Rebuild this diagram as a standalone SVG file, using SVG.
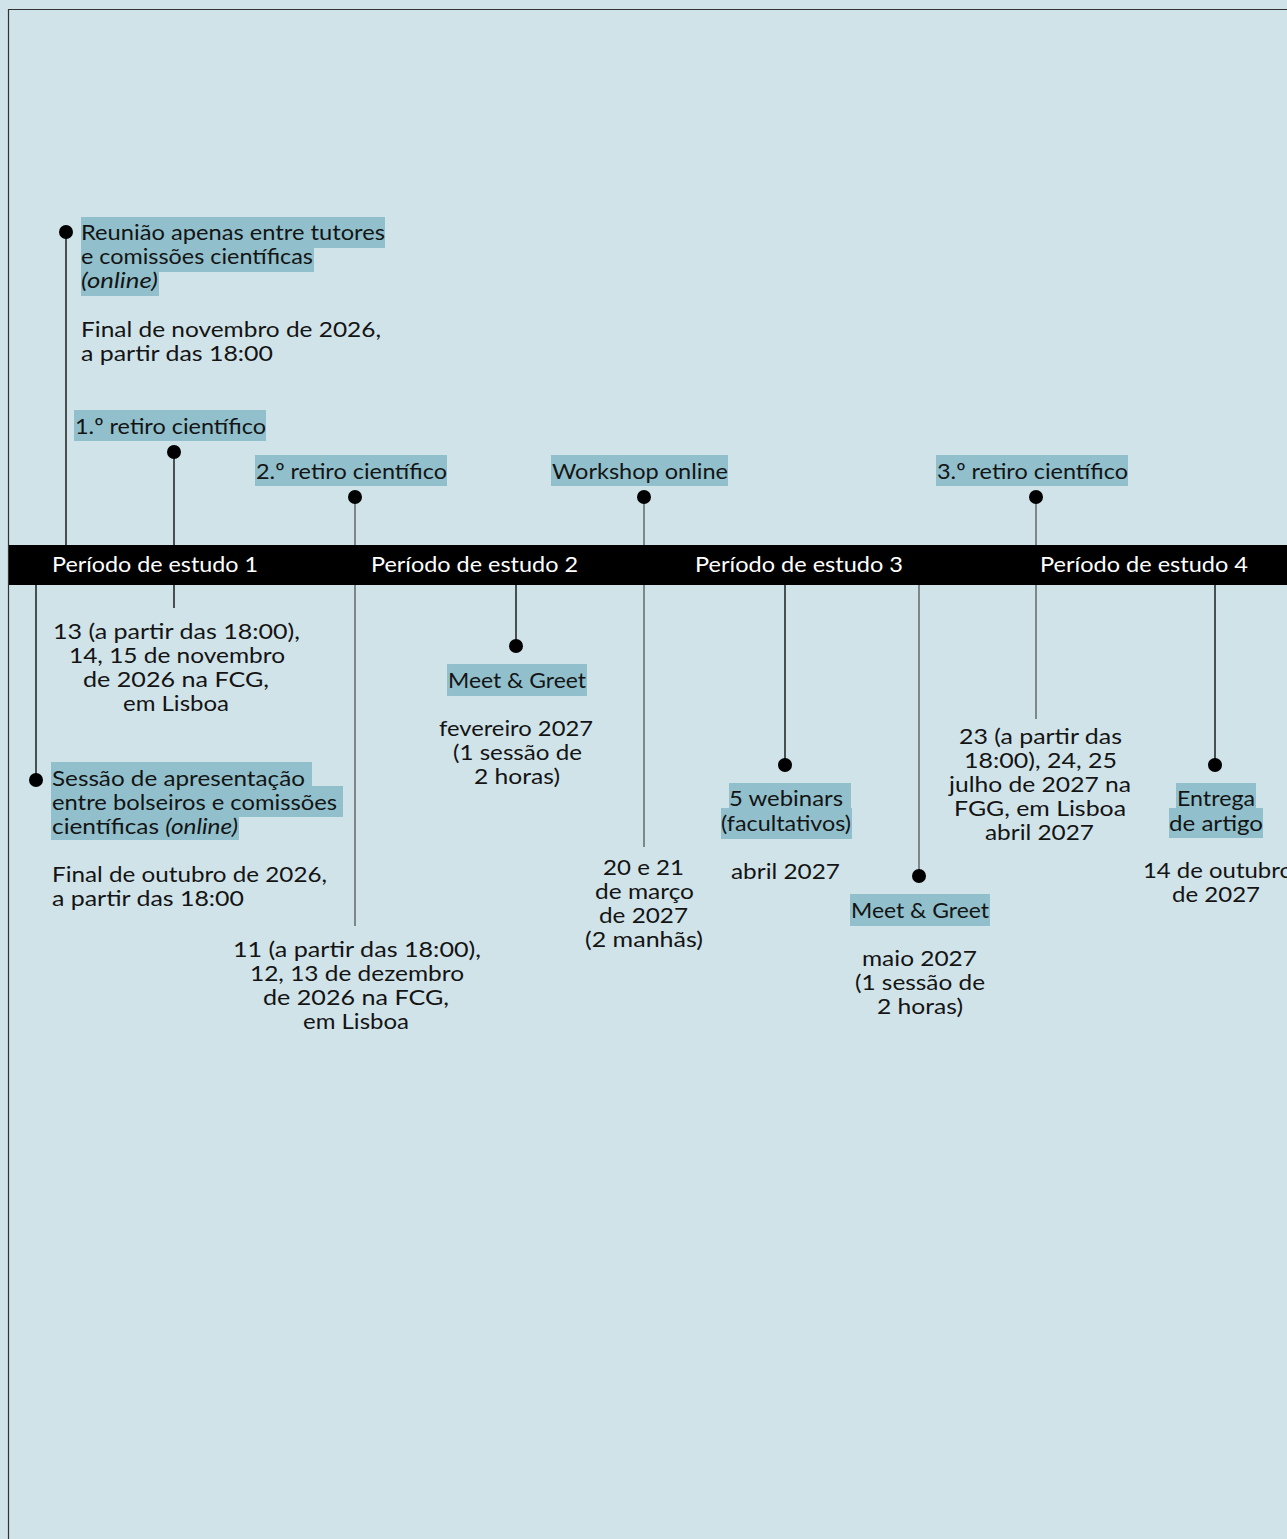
<svg xmlns="http://www.w3.org/2000/svg" width="1287" height="1539" viewBox="0 0 1287 1539">
<style>
text{font-family:Lato,"Liberation Sans",sans-serif;font-size:22px;fill:#141414}
.c{text-anchor:middle}
.bar{fill:#fff}
.hl{fill:#91c0cc}
.ln{stroke:#000;stroke-width:1.3;fill:none}
.lg{stroke:#555;stroke-width:1.3;fill:none}
.dot{fill:#000}
.it{font-style:italic}
</style>
<rect width="1287" height="1539" fill="#d0e3e9"/>
<path d="M8.5 1539V9.5H1287" fill="none" stroke="#333" stroke-width="1.2"/>
<g id="connectors">
<line class="ln" x1="66" y1="232" x2="66" y2="545"/>
<line class="ln" x1="174" y1="451" x2="174" y2="608"/>
<line class="lg" x1="355" y1="497" x2="355" y2="926"/>
<line class="ln" x1="36" y1="585" x2="36" y2="779"/>
<line class="ln" x1="516" y1="585" x2="516" y2="646"/>
<line class="lg" x1="644" y1="497" x2="644" y2="847"/>
<line class="ln" x1="785" y1="585" x2="785" y2="765"/>
<line class="lg" x1="919" y1="585" x2="919" y2="876"/>
<line class="lg" x1="1036" y1="497" x2="1036" y2="719"/>
<line class="ln" x1="1215" y1="585" x2="1215" y2="765"/>
</g>
<g id="timeline">
<rect x="9" y="545" width="1278" height="40" fill="#000"/>
<text class="bar" x="52" y="572" textLength="206" lengthAdjust="spacingAndGlyphs">Período de estudo 1</text>
<text class="bar" x="371" y="572" textLength="207" lengthAdjust="spacingAndGlyphs">Período de estudo 2</text>
<text class="bar" x="695" y="572" textLength="208" lengthAdjust="spacingAndGlyphs">Período de estudo 3</text>
<text class="bar" x="1040" y="572" textLength="208" lengthAdjust="spacingAndGlyphs">Período de estudo 4</text>
</g>
<g id="reuniao">
<rect class="hl" x="81" y="217" width="304" height="31"/>
<rect class="hl" x="81" y="248" width="233" height="24"/>
<rect class="hl" x="81" y="272" width="78" height="24"/>
<circle class="dot" cx="66" cy="232" r="7"/>
<text x="81" y="240" textLength="304" lengthAdjust="spacingAndGlyphs">Reunião apenas entre tutores</text>
<text x="81" y="264" textLength="232" lengthAdjust="spacingAndGlyphs">e comissões científicas</text>
<text class="it" x="81" y="288" textLength="77" lengthAdjust="spacingAndGlyphs">(online)</text>
<text x="81" y="337" textLength="300" lengthAdjust="spacingAndGlyphs">Final de novembro de 2026,</text>
<text x="81" y="361" textLength="192" lengthAdjust="spacingAndGlyphs">a partir das 18:00</text>
</g>
<g id="retiro1">
<rect class="hl" x="74" y="410" width="192" height="31"/>
<circle class="dot" cx="174" cy="452" r="7"/>
<text x="75" y="434" textLength="191" lengthAdjust="spacingAndGlyphs">1.º retiro científico</text>
<text class="c" x="176.5" y="639" textLength="247" lengthAdjust="spacingAndGlyphs">13 (a partir das 18:00),</text>
<text class="c" x="177" y="663" textLength="216" lengthAdjust="spacingAndGlyphs">14, 15 de novembro</text>
<text class="c" x="176" y="687" textLength="186" lengthAdjust="spacingAndGlyphs">de 2026 na FCG,</text>
<text class="c" x="176" y="711" textLength="106" lengthAdjust="spacingAndGlyphs">em Lisboa</text>
</g>
<g id="retiro2">
<rect class="hl" x="255" y="455" width="192" height="31"/>
<circle class="dot" cx="355" cy="497" r="7"/>
<text x="256" y="479" textLength="191" lengthAdjust="spacingAndGlyphs">2.º retiro científico</text>
<text class="c" x="357" y="957" textLength="248" lengthAdjust="spacingAndGlyphs">11 (a partir das 18:00),</text>
<text class="c" x="357" y="981" textLength="214" lengthAdjust="spacingAndGlyphs">12, 13 de dezembro</text>
<text class="c" x="356" y="1005" textLength="186" lengthAdjust="spacingAndGlyphs">de 2026 na FCG,</text>
<text class="c" x="356" y="1029" textLength="106" lengthAdjust="spacingAndGlyphs">em Lisboa</text>
</g>
<g id="sessao">
<rect class="hl" x="51" y="762" width="261" height="24"/>
<rect class="hl" x="51" y="786" width="292" height="31"/>
<rect class="hl" x="51" y="817" width="188" height="23"/>
<circle class="dot" cx="36" cy="780" r="7"/>
<text x="52" y="786" textLength="253" lengthAdjust="spacingAndGlyphs">Sessão de apresentação</text>
<text x="52" y="810" textLength="285" lengthAdjust="spacingAndGlyphs">entre bolseiros e comissões</text>
<text x="52" y="834" textLength="186" lengthAdjust="spacingAndGlyphs">científicas <tspan class="it">(online)</tspan></text>
<text x="52" y="882" textLength="275" lengthAdjust="spacingAndGlyphs">Final de outubro de 2026,</text>
<text x="52" y="906" textLength="192" lengthAdjust="spacingAndGlyphs">a partir das 18:00</text>
</g>
<g id="meet1">
<circle class="dot" cx="516" cy="646" r="7"/>
<rect class="hl" x="447" y="664" width="140" height="32"/>
<text class="c" x="517" y="688" textLength="138" lengthAdjust="spacingAndGlyphs">Meet &amp; Greet</text>
<text class="c" x="516" y="736" textLength="154" lengthAdjust="spacingAndGlyphs">fevereiro 2027</text>
<text class="c" x="517.5" y="760" textLength="129" lengthAdjust="spacingAndGlyphs">(1 sessão de</text>
<text class="c" x="517" y="784" textLength="86" lengthAdjust="spacingAndGlyphs">2 horas)</text>
</g>
<g id="workshop">
<rect class="hl" x="551" y="455" width="177" height="31"/>
<circle class="dot" cx="644" cy="497" r="7"/>
<text x="552" y="479" textLength="176" lengthAdjust="spacingAndGlyphs">Workshop online</text>
<text class="c" x="643.5" y="875" textLength="81" lengthAdjust="spacingAndGlyphs">20 e 21</text>
<text class="c" x="644.5" y="899" textLength="99" lengthAdjust="spacingAndGlyphs">de março</text>
<text class="c" x="643.5" y="923" textLength="89" lengthAdjust="spacingAndGlyphs">de 2027</text>
<text class="c" x="644" y="947" textLength="118" lengthAdjust="spacingAndGlyphs">(2 manhãs)</text>
</g>
<g id="webinars">
<circle class="dot" cx="785" cy="765" r="7"/>
<rect class="hl" x="729" y="783" width="122" height="25"/>
<rect class="hl" x="721" y="808" width="131" height="31"/>
<text class="c" x="786" y="806" textLength="114" lengthAdjust="spacingAndGlyphs">5 webinars</text>
<text class="c" x="786" y="831" textLength="130" lengthAdjust="spacingAndGlyphs">(facultativos)</text>
<text class="c" x="785.5" y="879" textLength="109" lengthAdjust="spacingAndGlyphs">abril 2027</text>
</g>
<g id="meet2">
<circle class="dot" cx="919" cy="876" r="7"/>
<rect class="hl" x="850" y="894" width="140" height="32"/>
<text class="c" x="920" y="918" textLength="138" lengthAdjust="spacingAndGlyphs">Meet &amp; Greet</text>
<text class="c" x="919.5" y="966" textLength="115" lengthAdjust="spacingAndGlyphs">maio 2027</text>
<text class="c" x="920" y="990" textLength="130" lengthAdjust="spacingAndGlyphs">(1 sessão de</text>
<text class="c" x="920" y="1014" textLength="86" lengthAdjust="spacingAndGlyphs">2 horas)</text>
</g>
<g id="retiro3">
<rect class="hl" x="936" y="455" width="192" height="31"/>
<circle class="dot" cx="1036" cy="497" r="7"/>
<text x="937" y="479" textLength="191" lengthAdjust="spacingAndGlyphs">3.º retiro científico</text>
<text class="c" x="1040.5" y="744" textLength="163" lengthAdjust="spacingAndGlyphs">23 (a partir das</text>
<text class="c" x="1040.5" y="768" textLength="153" lengthAdjust="spacingAndGlyphs">18:00), 24, 25</text>
<text class="c" x="1040" y="792" textLength="182" lengthAdjust="spacingAndGlyphs">julho de 2027 na</text>
<text class="c" x="1040" y="816" textLength="172" lengthAdjust="spacingAndGlyphs">FGG, em Lisboa</text>
<text class="c" x="1039.5" y="840" textLength="109" lengthAdjust="spacingAndGlyphs">abril 2027</text>
</g>
<g id="entrega">
<circle class="dot" cx="1215" cy="765" r="7"/>
<rect class="hl" x="1176" y="783" width="80" height="25"/>
<rect class="hl" x="1169" y="808" width="94" height="30"/>
<text class="c" x="1216" y="806" textLength="78" lengthAdjust="spacingAndGlyphs">Entrega</text>
<text class="c" x="1216" y="831" textLength="94" lengthAdjust="spacingAndGlyphs">de artigo</text>
<text class="c" x="1218" y="878" textLength="150" lengthAdjust="spacingAndGlyphs">14 de outubro</text>
<text class="c" x="1216" y="902" textLength="88" lengthAdjust="spacingAndGlyphs">de 2027</text>
</g>
</svg>
